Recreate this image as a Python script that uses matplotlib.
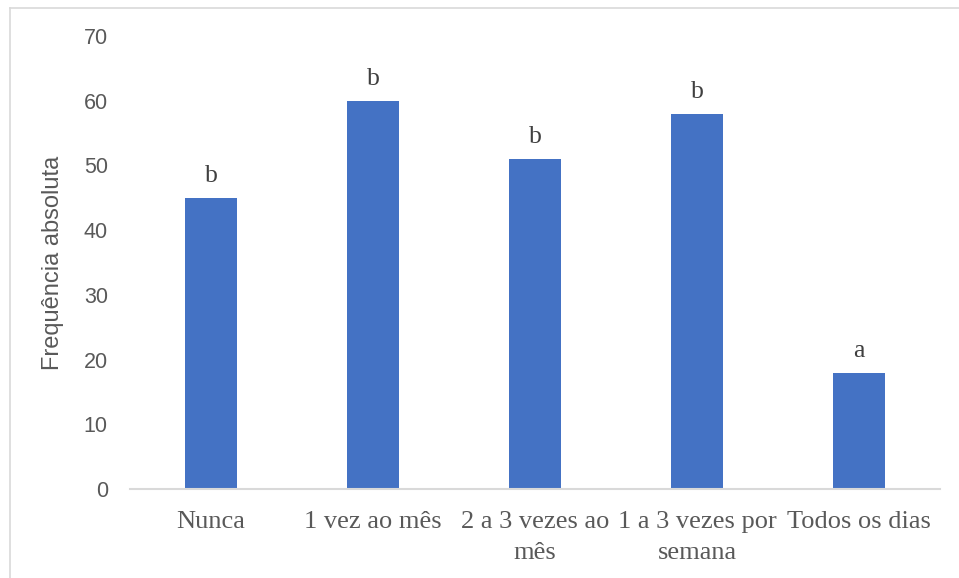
import matplotlib
matplotlib.use("Agg")
import matplotlib.pyplot as plt
from matplotlib.lines import Line2D

categories = ["Nunca", "1 vez ao mês", "2 a 3 vezes ao\nmês", "1 a 3 vezes por\nsemana", "Todos os dias"]
values = [45, 60, 51, 58, 18]
letters = ["b", "b", "b", "b", "a"]
yticks = [0, 10, 20, 30, 40, 50, 60, 70]

W, H = 959, 578
fig = plt.figure(figsize=(W / 100, H / 100), dpi=100)
ax = fig.add_axes([130 / W, 1 - 489 / H, 810 / W, 453 / H])

bar_color = "#4472C4"
text_gray = "#595959"
serif = ["Liberation Serif", "DejaVu Serif"]
sans = ["Liberation Sans", "DejaVu Sans"]

x = list(range(len(categories)))
ax.bar(x, values, width=0.32, color=bar_color, zorder=2)

for xi, v, lab in zip(x, values, letters):
    ax.annotate(lab, (xi, v), xytext=(0, 11.5), textcoords="offset points",
                ha="center", va="baseline", fontsize=18.5, family=serif, color="#404040")

ax.set_xlim(-0.5, len(categories) - 0.5)
ax.set_ylim(0, 70)
ax.set_yticks(yticks)
ax.set_yticklabels([str(t) for t in yticks], family=sans, fontsize=15.5, color=text_gray)
ax.set_xticks(x)
ax.set_xticklabels(categories, family=serif, fontsize=19, color=text_gray, linespacing=1.5)
ax.tick_params(axis="y", length=0, pad=16)
ax.tick_params(axis="x", length=0, pad=16)

for side in ("top", "right", "left"):
    ax.spines[side].set_visible(False)
ax.spines["bottom"].set_color("#d9d9d9")
ax.spines["bottom"].set_linewidth(1.5)

ax.set_ylabel("Frequência absoluta", family=sans, fontsize=17, color=text_gray, labelpad=14)

# thin outer frame along the top and left edges
frame_color = "#d9d9d9"
fx, fy = 9.5 / W, 1 - 7.5 / H
fig.add_artist(Line2D([fx, 1], [fy, fy], transform=fig.transFigure, color=frame_color, lw=1.2))
fig.add_artist(Line2D([fx, fx], [0, fy], transform=fig.transFigure, color=frame_color, lw=1.2))

fig.savefig("out.png", dpi=100, facecolor="white")
